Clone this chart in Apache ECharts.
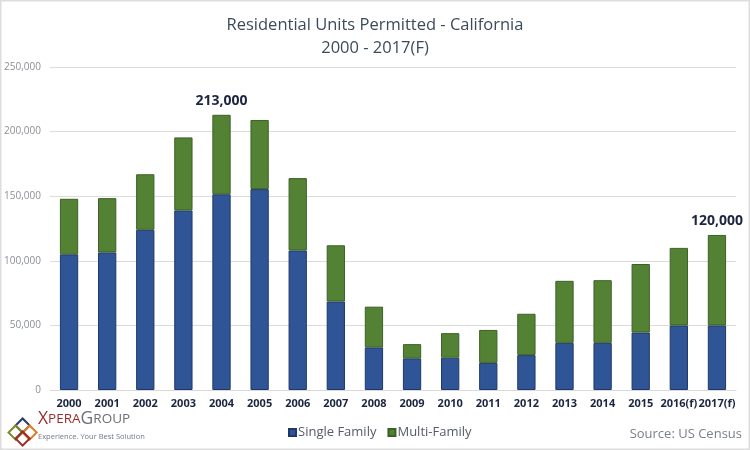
<!DOCTYPE html>
<html>
<head>
<meta charset="utf-8">
<script src="https://cdn.jsdelivr.net/npm/echarts@6/dist/echarts.min.js"></script>
<style>
html,body{margin:0;padding:0;background:#fff;}
#chart{width:750px;height:450px;}
</style>
</head>
<body>
<div id="chart"></div>
<script>
var categories = ['2000','2001','2002','2003','2004','2005','2006','2007','2008','2009','2010','2011','2012','2013','2014','2015','2016(f)','2017(f)'];
var singleFamily = [105000,106500,124000,139000,151500,155500,108000,68500,33000,24500,25000,21000,27000,36500,36500,44500,50000,50000];
var multiFamily = [43000,42000,43000,56500,61500,53500,56000,43500,31500,11000,19000,25500,32000,48000,48500,53000,60000,70000];
var annotatedIndices = [4, 17];
var yTicks = [0, 50000, 100000, 150000, 200000, 250000];

var FONT = '"Open Sans", "Noto Sans", sans-serif';
function fmt(v){ return v.toString().replace(/\B(?=(\d{3})+(?!\d))/g, ','); }

var chart = echarts.init(document.getElementById('chart'), null, {renderer:'canvas'});

var multiData = multiFamily.map(function(v, i){
  if (annotatedIndices.indexOf(i) >= 0) {
    return {value: v, label: {show: true}};
  }
  return v;
});

var option = {
  backgroundColor: '#ffffff',
  animation: false,
  title: {
    text: 'Residential Units Permitted - California\n2000 - 2017(F)',
    left: 'center',
    top: 9,
    textStyle: {
      fontFamily: FONT,
      fontSize: 16.5,
      fontWeight: 'normal',
      color: '#3d4a5c',
      lineHeight: 23
    }
  },
  legend: {
    data: ['Single Family', 'Multi-Family'],
    left: 283,
    top: 421,
    itemWidth: 7,
    itemHeight: 7,
    itemGap: 11,
    icon: 'rect',
    textStyle: {fontFamily: FONT, fontSize: 13, color: '#555b66', padding: [0,0,0,-3]}
  },
  grid: {left: 50, right: 14, top: 67, bottom: 60, containLabel: false},
  xAxis: {
    type: 'category',
    data: categories,
    axisTick: {show: false},
    axisLine: {lineStyle: {color: '#d9d9d9', width: 1}},
    axisLabel: {
      fontFamily: FONT,
      fontSize: 11,
      fontWeight: 'bold',
      color: '#1c2540',
      margin: 8,
      interval: 0
    }
  },
  yAxis: {
    type: 'value',
    min: 0,
    max: 250000,
    interval: 50000,
    axisLine: {show: false},
    axisTick: {show: false},
    splitLine: {lineStyle: {color: '#dcdcdc', width: 1}},
    axisLabel: {
      fontFamily: FONT,
      fontSize: 10,
      color: '#8a8f96',
      margin: 9,
      formatter: function(v){ return fmt(v); }
    }
  },
  series: [
    {
      name: 'Single Family',
      type: 'bar',
      stack: 'total',
      barWidth: '48%',
      data: singleFamily,
      itemStyle: {color: '#2f5597', borderColor: '#1f3868', borderWidth: 1}
    },
    {
      name: 'Multi-Family',
      type: 'bar',
      stack: 'total',
      barWidth: '48%',
      data: multiData,
      itemStyle: {color: '#548235', borderColor: '#3c6125', borderWidth: 1},
      label: {
        show: false,
        position: 'top',
        distance: 7,
        fontFamily: FONT,
        fontSize: 14,
        fontWeight: 'bold',
        color: '#1c2540',
        formatter: function(p){ return fmt(singleFamily[p.dataIndex] + multiFamily[p.dataIndex]); }
      }
    }
  ],
  graphic: [
    {type: 'rect', shape: {x: 0.5, y: 0.5, width: 749, height: 449}, style: {fill: 'none', stroke: '#dddddd', lineWidth: 2}, silent: true},
    {type: 'text', right: 8, top: 428, style: {text: 'Source: US Census', font: '13px ' + FONT, fill: '#7a7f88'}},
    {type: 'text', left: 38, top: 410, style: {
      fill: '#9b2c2c',
      rich: {
        b: {fontFamily: FONT, fontSize: 17.5, fill: '#9b2c2c'},
        s: {fontFamily: FONT, fontSize: 13.5, fill: '#9b2c2c'},
        gb: {fontFamily: FONT, fontSize: 17.5, fill: '#6b6e73'},
        gs: {fontFamily: FONT, fontSize: 13.5, fill: '#6b6e73'}
      },
      text: '{b|X}{s|PERA}{gb|G}{gs|ROUP}'
    }},
    {type: 'text', left: 38, top: 433, style: {text: 'Experience. Your Best Solution', font: '7.5px ' + FONT, fill: '#6f7890'}},
    {type: 'group', left: 5, top: 415, children: [
      {type: 'rect', shape: {x: 0, y: 0, width: 10, height: 10}, rotation: Math.PI/4, x: 15, y: 0, style: {fill: 'none', stroke: '#2a3a66', lineWidth: 2}},
      {type: 'rect', shape: {x: 0, y: 0, width: 10, height: 10}, rotation: Math.PI/4, x: 22, y: 7, style: {fill: 'none', stroke: '#e07b28', lineWidth: 2}},
      {type: 'rect', shape: {x: 0, y: 0, width: 10, height: 10}, rotation: Math.PI/4, x: 8, y: 7, style: {fill: 'none', stroke: '#7b8a2a', lineWidth: 2}},
      {type: 'rect', shape: {x: 0, y: 0, width: 10, height: 10}, rotation: Math.PI/4, x: 15, y: 13, style: {fill: 'none', stroke: '#9b2c2c', lineWidth: 2}}
    ]}
  ]
};
chart.setOption(option);
</script>
</body>
</html>
